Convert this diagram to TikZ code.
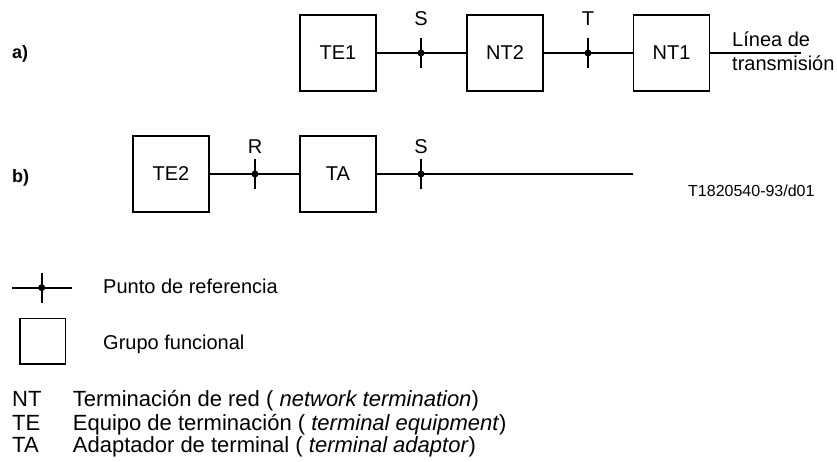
\documentclass[tikz,border=0pt]{standalone}
\usepackage{fontspec}
\setmainfont{Liberation Sans}
\usetikzlibrary{positioning,calc}

% reference point: short vertical tick with a dot
\newcommand{\refmark}[1]{%
    \draw[wire] ($(#1)+(0,15)$) -- ($(#1)+(0,-15)$);
    \fill (#1) circle (3.5);}

\begin{document}
\begin{tikzpicture}[x=1pt, y=1pt,
    font=\fontsize{20}{24}\selectfont,
    fblock/.style={draw, line width=1.1pt, minimum size=76pt, inner sep=0pt},
    wire/.style={line width=2pt},
    tag/.style={anchor=base west, inner sep=0pt},
    abbr/.style={tag, font=\fontsize{22}{26}\selectfont},
    ptlabel/.style={anchor=base, inner sep=0pt}]
    \useasboundingbox (0,0) rectangle (837,461);

    % Row a)
    \node[tag, font=\fontsize{18}{22}\selectfont\bfseries] (lbl-a) at (12,402) {a)};
    \node[fblock] (te1) at (338,408) {TE1};
    \node[fblock] (nt2) at (505,408) {NT2};
    \node[fblock] (nt1) at (671.5,408) {NT1};
    \coordinate (s-a) at (421,408);
    \coordinate (t-a) at (588,408);
    \coordinate (line-end) at (801,408);
    \draw[wire] (te1) -- (s-a) -- (nt2) -- (t-a) -- (nt1) -- (line-end);
    \refmark{s-a}
    \refmark{t-a}
    \node[ptlabel] (lbl-s-a) at (421,435) {S};
    \node[ptlabel] (lbl-t-a) at (588,435) {T};
    \node[tag, align=left] (linea) at (732,390.3) {Línea de\\transmisión};

    % Row b)
    \node[tag, font=\fontsize{18}{22}\selectfont\bfseries] (lbl-b) at (12,278.3) {b)};
    \node[fblock] (te2) at (171,287) {TE2};
    \node[fblock] (ta) at (338,287) {TA};
    \coordinate (r-b) at (255,287);
    \coordinate (s-b) at (421,287);
    \coordinate (bus-end) at (633,287);
    \draw[wire] (te2) -- (r-b) -- (ta) -- (s-b) -- (bus-end);
    \refmark{r-b}
    \refmark{s-b}
    \node[ptlabel] (lbl-r-b) at (255,307.7) {R};
    \node[ptlabel] (lbl-s-b) at (421,307.7) {S};
    \node[tag, font=\fontsize{16}{19}\selectfont] (fig-id) at (688,264.3) {T1820540-93/d01};

    % Legend
    \coordinate (leg-l) at (12.3,173.3);
    \coordinate (leg-m) at (41.7,173.3);
    \coordinate (leg-r) at (72.3,173.3);
    \draw[wire] (leg-l) -- (leg-r);
    \refmark{leg-m}
    \node[tag] (leg-pt) at (103,167.7) {Punto de referencia};
    \node[fblock, minimum size=45.5pt] (leg-box) at (42.7,119.8) {};
    \node[tag] (leg-grp) at (103,111.7) {Grupo funcional};

    % Abbreviations
    \node[abbr] (ab-nt) at (12,55) {NT};
    \node[abbr] (ab-te) at (12,31) {TE};
    \node[abbr] (ab-ta) at (12,8.3) {TA};
    \node[abbr] (tx-nt) at (72.7,55) {Terminación de red ( \textit{network termination})};
    \node[abbr] (tx-te) at (72.7,31) {Equipo de terminación ( \textit{terminal equipment})};
    \node[abbr] (tx-ta) at (72.7,8.3) {Adaptador de terminal ( \textit{terminal adaptor})};
\end{tikzpicture}
\end{document}
